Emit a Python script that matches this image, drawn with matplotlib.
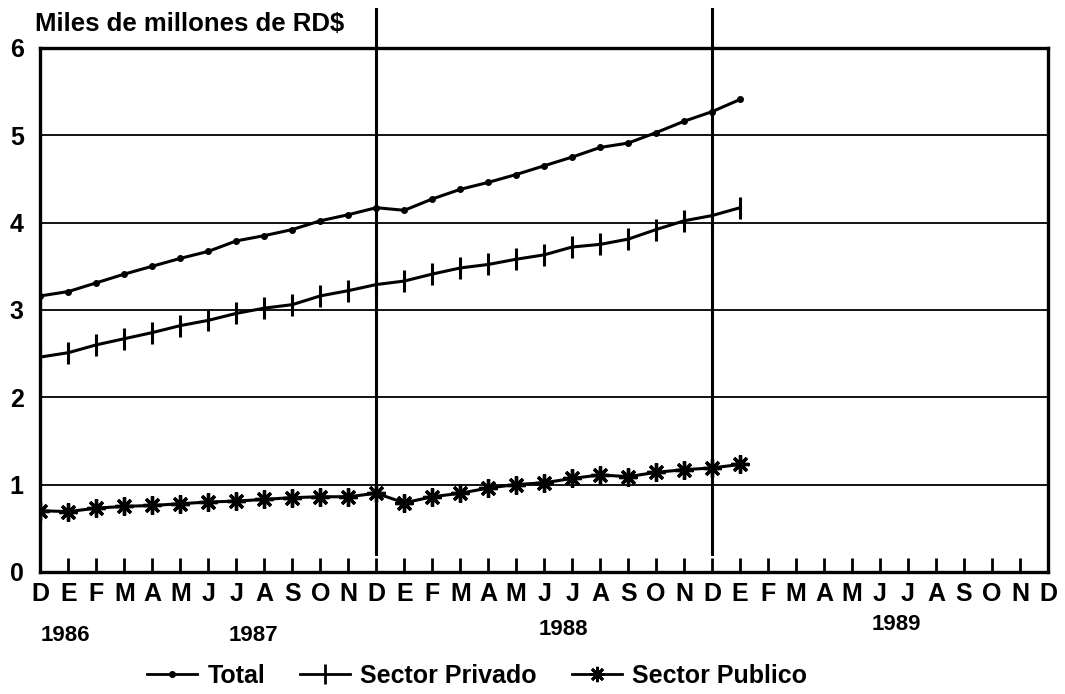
import numpy as np
import matplotlib
matplotlib.use('Agg')
import matplotlib.pyplot as plt
from matplotlib.lines import Line2D

plt.rcParams['font.family'] = ['Liberation Sans', 'DejaVu Sans']
plt.rcParams['font.weight'] = 'bold'

# months Dec 1986 .. Dec 1989 (axis), data Dec 1986 .. Jan 1989
month_labels = ['D'] + ['E', 'F', 'M', 'A', 'M', 'J', 'J', 'A', 'S', 'O', 'N', 'D'] * 3
years = ['1986', '1987', '1988', '1989']
year_pos = [0.9, 7.6, 18.7, 30.6]
year_y = [-0.122, -0.122, -0.11, -0.10]

total = [3.16, 3.21, 3.31, 3.41, 3.50, 3.59, 3.67, 3.79, 3.85, 3.92, 4.02, 4.09, 4.17,
         4.14, 4.27, 4.38, 4.46, 4.55, 4.65, 4.75, 4.86, 4.91, 5.03, 5.16, 5.27, 5.41]
privado = [2.46, 2.51, 2.60, 2.67, 2.74, 2.82, 2.88, 2.96, 3.02, 3.06, 3.16, 3.22, 3.29,
           3.33, 3.41, 3.48, 3.52, 3.58, 3.63, 3.72, 3.75, 3.81, 3.92, 4.02, 4.08, 4.17]
publico = [0.70, 0.69, 0.73, 0.75, 0.76, 0.78, 0.80, 0.81, 0.83, 0.85, 0.86, 0.86, 0.90,
           0.79, 0.86, 0.90, 0.96, 1.00, 1.02, 1.07, 1.11, 1.09, 1.14, 1.17, 1.19, 1.23]
year_breaks = [12, 24]

x = np.arange(len(total))

fig = plt.figure(figsize=(10.65, 6.94), dpi=100, facecolor='white')
ax = fig.add_axes([0.038, 0.176, 0.946, 0.755])

for y in [1, 2, 3, 4, 5]:
    ax.axhline(y, color='black', lw=1.3, zorder=1)
for xb in year_breaks:
    ax.plot([xb, xb], [0.2, 6.45], color='black', lw=2.2, clip_on=False, zorder=2)

ax.plot(x, total, color='black', lw=2.2, marker='o', ms=4, zorder=3)
ax.plot(x, privado, color='black', lw=2.2, marker='|', ms=16, mew=2.2, zorder=3)
ax.plot(x, publico, color='black', lw=2.2, marker=(8, 2, 0), ms=13, mew=2.4, zorder=3)

ax.set_xlim(0, 36)
ax.set_ylim(0, 6)
ax.set_xticks(np.arange(37))
ax.set_xticklabels(month_labels, fontsize=18, fontweight='bold')
ax.set_yticks(range(7))
ax.set_yticklabels([str(v) for v in range(7)], fontsize=18, fontweight='bold')
ax.tick_params(axis='x', direction='in', length=10, width=2, pad=7)
ax.tick_params(axis='y', length=0, pad=12)
for s in ax.spines.values():
    s.set_linewidth(2.4)

for yr, xp, yp in zip(years, year_pos, year_y):
    ax.text(xp, yp, yr, transform=ax.get_xaxis_transform(), ha='center', va='center',
            fontsize=16, fontweight='bold')

fig.text(0.033, 0.982, 'Miles de millones de RD$', ha='left', va='top',
         fontsize=18.5, fontweight='bold')

handles = [
    Line2D([], [], color='black', lw=2, marker='o', ms=4),
    Line2D([], [], color='black', lw=2, marker='|', ms=14, mew=2),
    Line2D([], [], color='black', lw=2, marker=(8, 2, 0), ms=11, mew=2),
]
fig.legend(handles, ['Total', 'Sector Privado', 'Sector Publico'], loc='center',
           bbox_to_anchor=(0.448, 0.026), ncol=3, frameon=False,
           prop={'size': 18, 'weight': 'bold'}, handlelength=2.0,
           columnspacing=1.4, handletextpad=0.4)

fig.savefig('out.png', dpi=100, facecolor='white')
